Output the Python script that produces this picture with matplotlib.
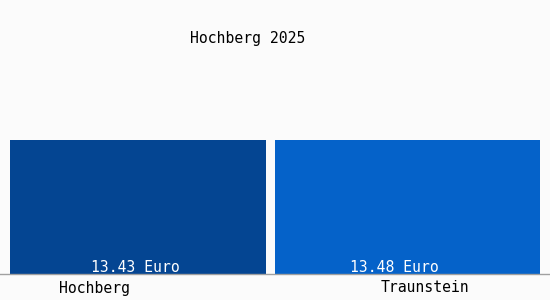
import matplotlib.pyplot as plt

places = ["Hochberg", "Traunstein"]
wages = [13.43, 13.48]
labels = ["13.43 Euro", "13.48 Euro"]
colors = ["#044592", "#0562c9"]
title = "Hochberg 2025"

plt.rcParams['font.family'] = ['DejaVu Sans Mono']

fig = plt.figure(figsize=(5.5, 3), dpi=100)
fig.patch.set_facecolor("#fbfbfb")
ax = fig.add_axes([10/550, 26/300, 530/550, 274/300])
ax.set_facecolor("none")

lefts = [-0.5, 0.5]
ax.bar(lefts, wages, width=[0.966, 1.0], align="edge", color=colors)
ax.set_xlim(-0.5, 1.5)
ax.set_ylim(0, 27.55)
for s in ax.spines.values():
    s.set_visible(False)
ax.set_xticks([])
ax.set_yticks([])

# value labels inside the bars
for xi, lab in zip([-0.028, 0.949], labels):
    ax.text(xi, 0.7, lab, color="white", ha="center", va="center", fontsize=10.6)

# axis line across full width
fig.add_artist(plt.Line2D([0, 1], [26/300, 26/300], color="#a0a0a0", lw=1))

fig.text(95/550, 1 - 288/300, places[0], ha="center", va="center", fontsize=10.6)
fig.text(425/550, 1 - 288/300, places[1], ha="center", va="center", fontsize=10.6)
fig.text(248/550, 1 - 38/300, title, ha="center", va="center", fontsize=10.6)

fig.savefig("out.png", dpi=100, facecolor=fig.get_facecolor())
